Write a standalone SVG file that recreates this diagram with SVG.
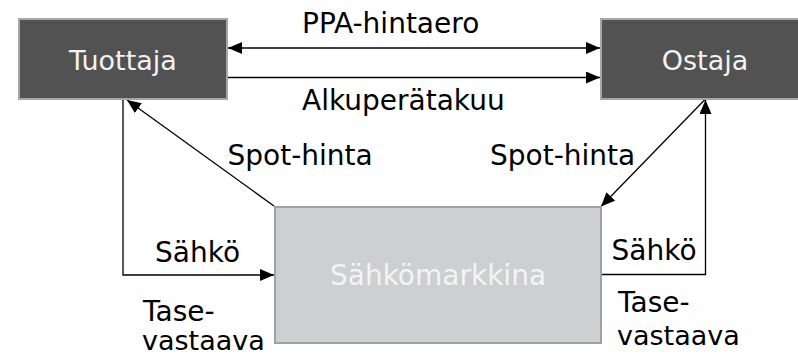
<svg xmlns="http://www.w3.org/2000/svg" width="798" height="356" viewBox="0 0 798 356">
  <style>
    .lbl { font-family: "DejaVu Sans", Verdana, sans-serif; font-size: 28px; fill: #000; }
    .sm { font-size: 27px; }
    .nodetxt { font-family: "DejaVu Sans", Verdana, sans-serif; font-size: 27px; text-anchor: middle; }
    .dark { fill: #525252; stroke: #a6a6a6; stroke-width: 2; }
    .light { fill: #ccd0d2; stroke: #a0a2a3; stroke-width: 2; }
    .conn { fill: none; stroke: #000; stroke-width: 1.3; }
  </style>
  <defs>
    <marker id="arrow" viewBox="0 0 14 12" refX="14" refY="6" markerWidth="14" markerHeight="12" markerUnits="userSpaceOnUse" orient="auto-start-reverse">
      <path d="M0,0 L14,6 L0,12 Z" fill="#000"/>
    </marker>
  </defs>

  <rect width="798" height="356" fill="#fff"/>

  <g id="connectors">
    <!-- contract flows between producer and buyer -->
    <line class="conn" x1="228" y1="48" x2="600" y2="48" marker-start="url(#arrow)" marker-end="url(#arrow)"/>
    <line class="conn" x1="228" y1="77.5" x2="600" y2="77.5" marker-end="url(#arrow)"/>
    <!-- spot price from market to producer -->
    <line class="conn" x1="274" y1="206" x2="127" y2="100" marker-end="url(#arrow)"/>
    <!-- spot price from buyer to market -->
    <line class="conn" x1="705" y1="99.5" x2="601" y2="206.5" marker-end="url(#arrow)"/>
    <!-- electricity from producer into market -->
    <polyline class="conn" points="123,100 123,275 274,275" marker-end="url(#arrow)"/>
    <!-- electricity from market to buyer -->
    <polyline class="conn" points="602,274.5 705.5,274.5 705.5,100" marker-end="url(#arrow)"/>
  </g>

  <g id="tuottaja">
    <rect class="dark" x="19" y="19" width="208" height="80"/>
    <text class="nodetxt" x="123" y="70" fill="#f2f2f2">Tuottaja</text>
  </g>

  <g id="ostaja">
    <rect class="dark" x="601" y="19" width="208" height="80"/>
    <text class="nodetxt" x="705" y="70" fill="#f2f2f2">Ostaja</text>
  </g>

  <g id="sahkomarkkina">
    <rect class="light" x="275" y="207" width="326" height="136"/>
    <text class="nodetxt" x="438" y="285" fill="#f4f4f4" style="font-size:28px">Sähkömarkkina</text>
  </g>

  <g id="labels">
    <text class="lbl" x="302" y="33">PPA-hintaero</text>
    <text class="lbl" x="302" y="110">Alkuperätakuu</text>
    <text class="lbl" x="227.5" y="165">Spot-hinta</text>
    <text class="lbl" x="490" y="165">Spot-hinta</text>
    <text class="lbl" x="155" y="262">Sähkö</text>
    <text class="lbl" x="611.5" y="259.5">Sähkö</text>
    <text class="lbl" x="143" y="321">Tase-</text>
    <text class="lbl sm" x="142" y="350">vastaava</text>
    <text class="lbl" x="618" y="312">Tase-</text>
    <text class="lbl sm" x="617" y="345">vastaava</text>
  </g>
</svg>
